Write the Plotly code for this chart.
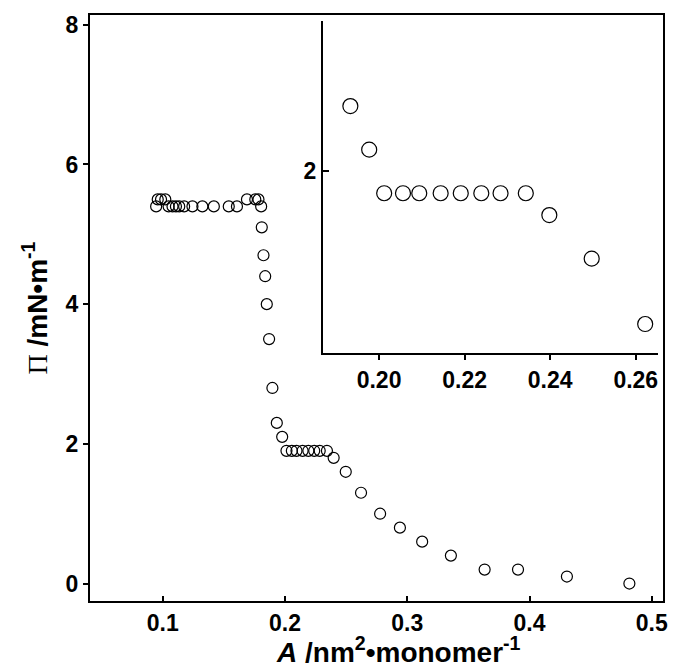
import plotly.graph_objects as go

# surface pressure isotherm, main panel
area_main = [0.0946, 0.0959, 0.0986, 0.1021, 0.1048, 0.1080, 0.1108, 0.1135, 0.1175,
             0.1243, 0.1324, 0.1418, 0.1540, 0.1607, 0.1689, 0.1757, 0.1783, 0.1805,
             0.1810, 0.1824, 0.1838, 0.1851, 0.1870, 0.1897, 0.1933, 0.1977, 0.2012,
             0.2056, 0.2094, 0.2144, 0.2191, 0.2239, 0.2284, 0.2343, 0.2398, 0.2497,
             0.2622, 0.2778, 0.2940, 0.3122, 0.3357, 0.3633, 0.3906, 0.4306, 0.4817]
pressure_main = [5.4, 5.5, 5.5, 5.5, 5.4, 5.4, 5.4, 5.4, 5.4,
                 5.4, 5.4, 5.4, 5.4, 5.4, 5.5, 5.5, 5.5, 5.4,
                 5.1, 4.7, 4.4, 4.0, 3.5, 2.8, 2.3, 2.1, 1.9,
                 1.9, 1.9, 1.9, 1.9, 1.9, 1.9, 1.9, 1.8, 1.6,
                 1.3, 1.0, 0.8, 0.6, 0.4, 0.2, 0.2, 0.1, 0.0]

# inset: zoom on the second plateau
area_inset = [0.1933, 0.1977, 0.2012, 0.2056, 0.2094, 0.2144, 0.2191, 0.2239,
              0.2284, 0.2343, 0.2398, 0.2497, 0.2622]
pressure_inset = [2.3, 2.1, 1.9, 1.9, 1.9, 1.9, 1.9, 1.9,
                  1.9, 1.9, 1.8, 1.6, 1.3]

main_xticks = [0.1, 0.2, 0.3, 0.4, 0.5]
main_yticks = [0, 2, 4, 6, 8]
inset_xticks = [0.20, 0.22, 0.24, 0.26]
inset_yticks = [2]

FONT = 'Liberation Sans, Arial, sans-serif'
tick_font = dict(family=FONT, size=23, color='black', weight='bold')

fig = go.Figure()

fig.add_trace(go.Scatter(
    x=area_main, y=pressure_main, mode='markers',
    marker=dict(symbol='circle-open', size=11, color='black', line=dict(width=1.2)),
    xaxis='x', yaxis='y', showlegend=False
))

fig.add_trace(go.Scatter(
    x=area_inset, y=pressure_inset, mode='markers',
    marker=dict(symbol='circle-open', size=15, color='black', line=dict(width=1.2)),
    xaxis='x2', yaxis='y2', showlegend=False
))

fig.update_layout(
    width=677, height=671,
    margin=dict(l=90, r=9, t=15, b=70),
    plot_bgcolor='white', paper_bgcolor='white',
    xaxis=dict(
        domain=[0, 1], range=[0.0405, 0.5092],
        tickvals=main_xticks, ticktext=[f'{v:.1f}' for v in main_xticks],
        ticks='inside', ticklen=5, tickwidth=1.5, tickcolor='black',
        showline=True, linewidth=2, linecolor='black', mirror=True,
        showgrid=False, zeroline=False, tickfont=tick_font,
    ),
    yaxis=dict(
        domain=[0, 1], range=[-0.25, 8.14],
        tickvals=main_yticks, ticktext=[str(v) for v in main_yticks],
        ticks='outside', ticklen=5, tickwidth=1.5, tickcolor='black',
        showline=True, linewidth=2, linecolor='black', mirror=True,
        showgrid=False, zeroline=False, tickfont=tick_font,
        title=dict(
            text='<span style="font-family:Liberation Serif, Times New Roman, serif">Π</span>'
                 '<b> /mN•m<sup>-1</sup></b>',
            font=dict(family=FONT, size=28, color='black'), standoff=10
        ),
    ),
    xaxis2=dict(
        domain=[0.4066, 0.9913], range=[0.1869, 0.2652], anchor='y2',
        tickvals=inset_xticks, ticktext=[f'{v:.2f}' for v in inset_xticks],
        ticks='outside', ticklen=5, tickwidth=1.5, tickcolor='black',
        showline=True, linewidth=2, linecolor='black', mirror=False,
        showgrid=False, zeroline=False, tickfont=tick_font,
    ),
    yaxis2=dict(
        domain=[0.4232, 0.9897], range=[1.167, 2.69], anchor='x2',
        tickvals=inset_yticks, ticktext=[str(v) for v in inset_yticks],
        ticks='inside', ticklen=6, tickwidth=1.5, tickcolor='black',
        showline=True, linewidth=2, linecolor='black', mirror=False,
        showgrid=False, zeroline=False, tickfont=tick_font,
    ),
)

# x title sits a bit right of the plot centre in the original
fig.add_annotation(
    text='<b><i>A</i> /nm<sup>2</sup>•monomer<sup>-1</sup></b>',
    xref='paper', yref='paper', x=0.538, y=-0.083,
    xanchor='center', yanchor='middle', showarrow=False,
    font=dict(family=FONT, size=28, color='black')
)

# the page's default body margin would shift the figure by 8px
fig.write_html("out.html", config={'displayModeBar': False},
               post_script="document.body.style.margin='0px';")
